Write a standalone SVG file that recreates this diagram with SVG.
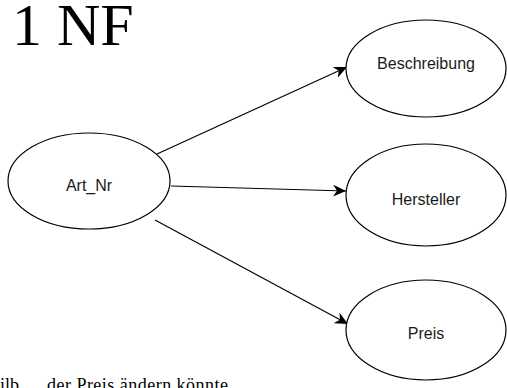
<svg xmlns="http://www.w3.org/2000/svg" width="507" height="388" viewBox="0 0 507 388">
<defs>
<style>
.node ellipse{fill:#ffffff;stroke:#000000;stroke-width:1.2}
.node text{font-family:"Liberation Sans",Arial,sans-serif;font-size:16px;fill:#1a1a1a;text-anchor:middle}
.edge{stroke:#000000;stroke-width:1.2;fill:none;marker-end:url(#arrow)}
.serif{font-family:"Liberation Serif","Times New Roman",serif;fill:#000000}
</style>
<marker id="arrow" markerUnits="userSpaceOnUse" markerWidth="14" markerHeight="12" viewBox="0 0 14 12" refX="13" refY="6" orient="auto">
<path d="M0,0 L13,6 L0,12 L4,6 Z" fill="#000000"/>
</marker>
</defs>
<rect width="507" height="388" fill="#ffffff"/>
<text class="serif" x="12" y="45" font-size="60">1 NF</text>
<g id="connectors">
<line class="edge" x1="157" y1="154" x2="347" y2="67"/>
<line class="edge" x1="171" y1="186" x2="346" y2="191"/>
<line class="edge" x1="155" y1="220" x2="348" y2="324"/>
</g>
<g id="node-art-nr" class="node">
<ellipse cx="89" cy="181" rx="81" ry="48"/>
<text x="89" y="191">Art_Nr</text>
</g>
<g id="node-beschreibung" class="node">
<ellipse cx="426" cy="68.5" rx="80" ry="48.5"/>
<text x="426" y="68.5">Beschreibung</text>
</g>
<g id="node-hersteller" class="node">
<ellipse cx="426" cy="195" rx="80" ry="51"/>
<text x="426" y="205">Hersteller</text>
</g>
<g id="node-preis" class="node">
<ellipse cx="426" cy="330" rx="80" ry="50"/>
<text x="426" y="339">Preis</text>
</g>
<text class="serif" font-size="18" x="0" y="391">ilb</text>
<text class="serif" font-size="18" x="47" y="391" textLength="181" lengthAdjust="spacing">der Preis ändern könnte</text>
</svg>
